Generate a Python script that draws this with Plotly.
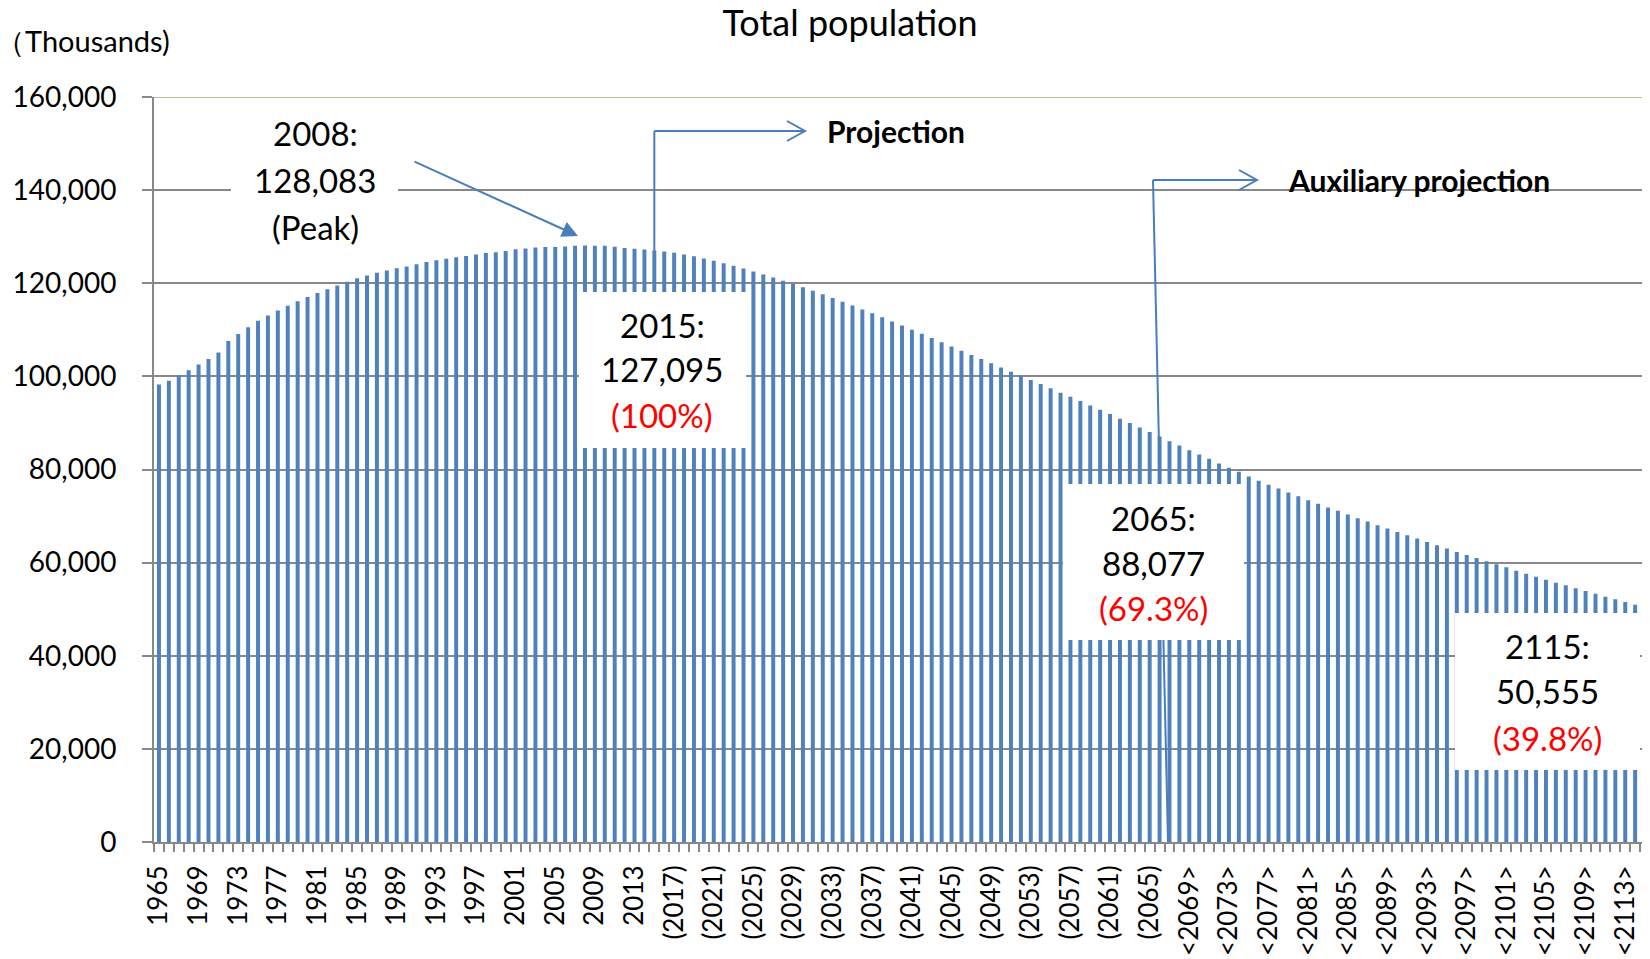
import plotly.graph_objects as go

# ---------------- data ----------------
years = list(range(1965, 2116))

pop_actual = [  # 1965-2015
    98275, 99036, 100196, 101331, 102536, 103720, 105145, 107595, 109104, 110573,
    111940, 113094, 114165, 115190, 116155, 117060, 117902, 118728, 119536, 120305,
    121049, 121660, 122239, 122745, 123205, 123611, 124101, 124567, 124938, 125265,
    125570, 125859, 126157, 126472, 126667, 126926, 127316, 127486, 127694, 127787,
    127768, 127901, 128033, 128083, 128032, 128057, 127834, 127593, 127414, 127237,
    127095]

pop_projection = [  # 2016-2065
    126838, 126532, 126177, 125773, 125325, 124836, 124310, 123751, 123161, 122544,
    121903, 121240, 120555, 119850, 119125, 118380, 117616, 116833, 116033, 115216,
    114383, 113535, 112674, 111801, 110919, 110028, 109131, 108229, 107322, 106421,
    105518, 104614, 103710, 102806, 101923, 101000, 100070, 99210, 98350, 97441,
    96485, 95625, 94695, 93760, 92840, 91895, 90895, 89960, 89030, 88077]

pop_auxiliary = [  # 2066-2115
    87070, 86085, 85160, 84150, 83227, 82300, 81290, 80365, 79505, 78495,
    77570, 76710, 75910, 75050, 74260, 73400, 72620, 71830, 71115, 70320,
    69525, 68815, 68020, 67310, 66600, 65870, 65160, 64450, 63720, 63010,
    62300, 61650, 61010, 60280, 59630, 58990, 58280, 57630, 56990, 56340,
    55700, 55120, 54470, 53910, 53330, 52690, 52110, 51550, 50970, 50555]

population = pop_actual + pop_projection + pop_auxiliary

tick_labels = [
    "1965", "1969", "1973", "1977", "1981", "1985", "1989", "1993", "1997",
    "2001", "2005", "2009", "2013",
    "(2017)", "(2021)", "(2025)", "(2029)", "(2033)", "(2037)", "(2041)",
    "(2045)", "(2049)", "(2053)", "(2057)", "(2061)", "(2065)",
    "&lt;2069&gt;", "&lt;2073&gt;", "&lt;2077&gt;", "&lt;2081&gt;", "&lt;2085&gt;",
    "&lt;2089&gt;", "&lt;2093&gt;", "&lt;2097&gt;", "&lt;2101&gt;", "&lt;2105&gt;",
    "&lt;2109&gt;", "&lt;2113&gt;"]
tick_years = list(range(1965, 2116, 4))

y_ticks = [0, 20000, 40000, 60000, 80000, 100000, 120000, 140000, 160000]

callouts = [
    ("2015:", "127,095", "(100%)"),
    ("2065:", "88,077", "(69.3%)"),
    ("2115:", "50,555", "(39.8%)"),
]

# ---------------- layout helpers (page pixel -> axis units) ----------------
OFF = 8                      # page body margin
PW, PH = 1650, 959           # page size
PL, PT, PB, PR = 154, 97, 842, 1650   # plot area on the page
W, H = PW - OFF, PH - OFF
n = len(years)
slot = (PR - PL) / n
plot_h = PB - PT
YMAX = 160000


def xd(px):
    return (px - PL) / slot - 0.5


def yd(py):
    return (PB - py) * YMAX / plot_h


x_idx = list(range(n))
FONT = "Lato, 'Open Sans', sans-serif"
BLUE = "#4A7EBB"

fig = go.Figure()
fig.add_trace(go.Bar(x=x_idx, y=population, marker=dict(color="#4F81BD", line=dict(width=0)),
                     hoverinfo="skip"))

shapes = []
# auxiliary-projection pointer (drawn before the boxes so the 2065 box hides it)
shapes.append(dict(type="line", xref="x", yref="y", x0=xd(1153), y0=yd(180), x1=xd(1168), y1=0,
                   line=dict(color=BLUE, width=2), layer="above"))
for (a, b, c, d) in [(231, 398, 108, 252), (579, 746, 292, 448), (1063, 1244, 484, 640), (1455, 1640, 613, 770)]:
    shapes.append(dict(type="rect", xref="x", yref="y", x0=xd(a), x1=xd(b), y0=yd(d), y1=yd(c),
                       fillcolor="white", line=dict(width=0), layer="above"))
shapes.append(dict(type="line", xref="x", yref="y", x0=xd(1153), y0=yd(180), x1=xd(1257), y1=yd(180),
                   line=dict(color=BLUE, width=2), layer="above"))
shapes.append(dict(type="path", xref="x", yref="y",
                   path=f"M {xd(1239)},{yd(170)} L {xd(1257)},{yd(180)} L {xd(1239)},{yd(190)}",
                   line=dict(color=BLUE, width=2), layer="above"))
i2015 = years.index(2015)
shapes.append(dict(type="line", xref="x", yref="y", x0=i2015, y0=yd(131), x1=i2015, y1=population[i2015],
                   line=dict(color=BLUE, width=2), layer="above"))
shapes.append(dict(type="line", xref="x", yref="y", x0=i2015, y0=yd(131), x1=xd(805), y1=yd(131),
                   line=dict(color=BLUE, width=2), layer="above"))
shapes.append(dict(type="path", xref="x", yref="y",
                   path=f"M {xd(787)},{yd(121)} L {xd(805)},{yd(131)} L {xd(787)},{yd(141)}",
                   line=dict(color=BLUE, width=2), layer="above"))
shapes.append(dict(type="line", xref="paper", yref="y", x0=0, x1=1, y0=YMAX, y1=YMAX,
                   line=dict(color="#C4BD97", width=2), layer="above"))

annotations = []
annotations.append(dict(x=xd(578), y=yd(236), ax=xd(413), ay=yd(161), axref="x", ayref="y",
                        xref="x", yref="y", text="", showarrow=True, arrowhead=2, arrowsize=1.6,
                        arrowwidth=2, arrowcolor=BLUE, standoff=0))
TXT = dict(family=FONT, size=33, color="black")
RED = dict(family=FONT, size=33, color="#FF0000")
for t, py in [("2008:", 133), ("128,083", 180), ("(Peak)", 227)]:
    annotations.append(dict(x=xd(315), y=yd(py), xref="x", yref="y", text=t, showarrow=False,
                            font=TXT, xanchor="center", yanchor="middle"))
for (t1, t2, t3), cx, pys in zip(callouts, [662, 1153, 1547],
                                 [(325, 369, 415), (518, 563, 608), (646, 691, 738)]):
    for t, py, f in zip((t1, t2, t3), pys, (TXT, TXT, RED)):
        annotations.append(dict(x=xd(cx), y=yd(py), xref="x", yref="y", text=t, showarrow=False,
                                font=f, xanchor="center", yanchor="middle"))
annotations.append(dict(x=xd(825), y=yd(131), xref="x", yref="y", text="<b>Projection</b>",
                        showarrow=False, xanchor="left", yanchor="middle",
                        font=dict(family=FONT, size=30, color="black")))
annotations.append(dict(x=xd(1286), y=yd(180), xref="x", yref="y", text="<b>Auxiliary projection</b>",
                        showarrow=False, xanchor="left", yanchor="middle",
                        font=dict(family=FONT, size=30, color="black")))
annotations.append(dict(x=(172 - PL) / (PR - PL), y=(PB - 40) / plot_h, xref="paper", yref="paper",
                        text="（Thousands)", showarrow=False, xanchor="right", yanchor="middle",
                        font=dict(family=FONT, size=29, color="black")))

fig.update_layout(
    width=W, height=H,
    margin=dict(l=PL - OFF, r=PW - PR, t=PT - OFF, b=PH - PB, autoexpand=False),
    paper_bgcolor="white", plot_bgcolor="white",
    showlegend=False, bargap=0.6,
    title=dict(text="Total population", x=(850 - OFF) / W, xref="container", xanchor="center",
               y=1 - (23 - OFF) / H, yref="container", yanchor="middle",
               font=dict(family=FONT, size=36, color="black")),
    xaxis=dict(range=[-0.5, n - 0.5], tickmode="array",
               tickvals=[years.index(y) for y in tick_years], ticktext=tick_labels,
               tickangle=-90, ticks="outside", ticklen=11, tickcolor="rgba(0,0,0,0)",
               showgrid=False, showline=True, linecolor="#888888",
               linewidth=2, tickfont=dict(family=FONT, size=26, color="black"),
               minor=dict(tickmode="linear", tick0=-0.5, dtick=1, ticks="outside", ticklen=8,
                          tickcolor="#888888", tickwidth=1.5, showgrid=False)),
    yaxis=dict(range=[0, YMAX], tickmode="array", tickvals=y_ticks,
               ticktext=[f"{v:,}" for v in y_ticks], ticks="outside", ticklen=10,
               tickcolor="#888888", tickwidth=1.5, showgrid=True, gridcolor="#888888",
               gridwidth=1.5, showline=True, linecolor="#888888", linewidth=2,
               zeroline=False, tickfont=dict(family=FONT, size=28, color="black"),
               ticklabelstandoff=20),
    shapes=shapes, annotations=annotations,
)

fig.write_html("out.html")
